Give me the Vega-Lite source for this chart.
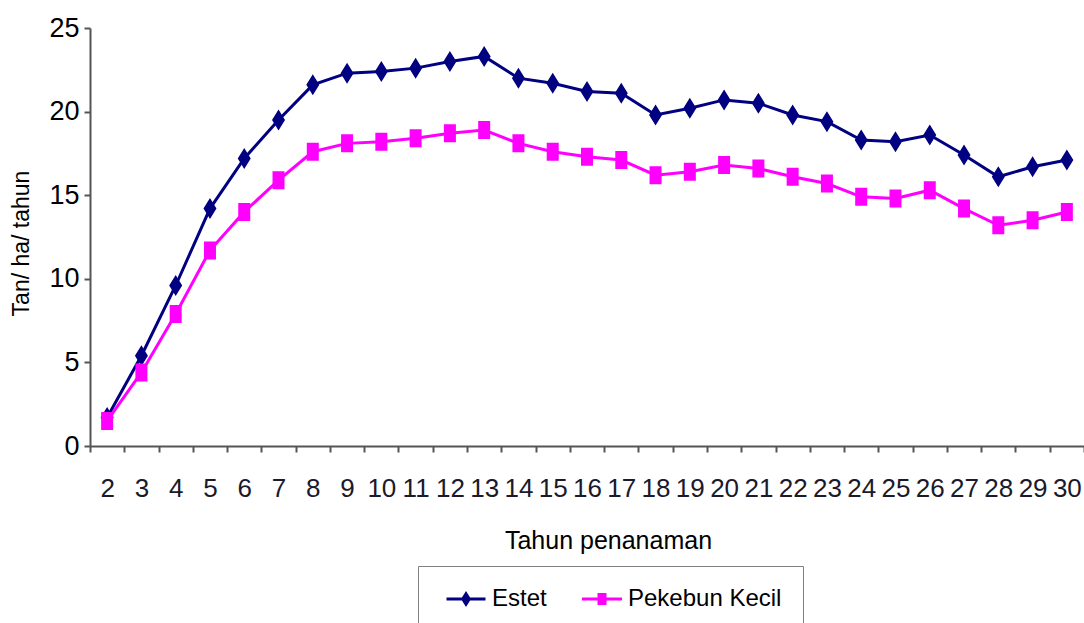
{
  "$schema": "https://vega.github.io/schema/vega-lite/v6.json",
  "autosize": "none",
  "width": 994,
  "height": 418,
  "padding": {"left": 90, "top": 28, "right": 0, "bottom": 177},
  "background": "white",
  "config": {"view": {"stroke": null}, "font": "Liberation Sans"},
  "data": {"values": [
    {"tahun": 2, "seri": "Estet", "nilai": 1.7},
    {"tahun": 3, "seri": "Estet", "nilai": 5.4},
    {"tahun": 4, "seri": "Estet", "nilai": 9.6},
    {"tahun": 5, "seri": "Estet", "nilai": 14.2},
    {"tahun": 6, "seri": "Estet", "nilai": 17.2},
    {"tahun": 7, "seri": "Estet", "nilai": 19.5},
    {"tahun": 8, "seri": "Estet", "nilai": 21.6},
    {"tahun": 9, "seri": "Estet", "nilai": 22.3},
    {"tahun": 10, "seri": "Estet", "nilai": 22.4},
    {"tahun": 11, "seri": "Estet", "nilai": 22.6},
    {"tahun": 12, "seri": "Estet", "nilai": 23.0},
    {"tahun": 13, "seri": "Estet", "nilai": 23.3},
    {"tahun": 14, "seri": "Estet", "nilai": 22.0},
    {"tahun": 15, "seri": "Estet", "nilai": 21.7},
    {"tahun": 16, "seri": "Estet", "nilai": 21.2},
    {"tahun": 17, "seri": "Estet", "nilai": 21.1},
    {"tahun": 18, "seri": "Estet", "nilai": 19.8},
    {"tahun": 19, "seri": "Estet", "nilai": 20.2},
    {"tahun": 20, "seri": "Estet", "nilai": 20.7},
    {"tahun": 21, "seri": "Estet", "nilai": 20.5},
    {"tahun": 22, "seri": "Estet", "nilai": 19.8},
    {"tahun": 23, "seri": "Estet", "nilai": 19.4},
    {"tahun": 24, "seri": "Estet", "nilai": 18.3},
    {"tahun": 25, "seri": "Estet", "nilai": 18.2},
    {"tahun": 26, "seri": "Estet", "nilai": 18.6},
    {"tahun": 27, "seri": "Estet", "nilai": 17.4},
    {"tahun": 28, "seri": "Estet", "nilai": 16.1},
    {"tahun": 29, "seri": "Estet", "nilai": 16.7},
    {"tahun": 30, "seri": "Estet", "nilai": 17.1},
    {"tahun": 2, "seri": "Pekebun Kecil", "nilai": 1.5},
    {"tahun": 3, "seri": "Pekebun Kecil", "nilai": 4.4},
    {"tahun": 4, "seri": "Pekebun Kecil", "nilai": 7.9},
    {"tahun": 5, "seri": "Pekebun Kecil", "nilai": 11.7},
    {"tahun": 6, "seri": "Pekebun Kecil", "nilai": 14.0},
    {"tahun": 7, "seri": "Pekebun Kecil", "nilai": 15.9},
    {"tahun": 8, "seri": "Pekebun Kecil", "nilai": 17.6},
    {"tahun": 9, "seri": "Pekebun Kecil", "nilai": 18.1},
    {"tahun": 10, "seri": "Pekebun Kecil", "nilai": 18.2},
    {"tahun": 11, "seri": "Pekebun Kecil", "nilai": 18.4},
    {"tahun": 12, "seri": "Pekebun Kecil", "nilai": 18.7},
    {"tahun": 13, "seri": "Pekebun Kecil", "nilai": 18.9},
    {"tahun": 14, "seri": "Pekebun Kecil", "nilai": 18.1},
    {"tahun": 15, "seri": "Pekebun Kecil", "nilai": 17.6},
    {"tahun": 16, "seri": "Pekebun Kecil", "nilai": 17.3},
    {"tahun": 17, "seri": "Pekebun Kecil", "nilai": 17.1},
    {"tahun": 18, "seri": "Pekebun Kecil", "nilai": 16.2},
    {"tahun": 19, "seri": "Pekebun Kecil", "nilai": 16.4},
    {"tahun": 20, "seri": "Pekebun Kecil", "nilai": 16.8},
    {"tahun": 21, "seri": "Pekebun Kecil", "nilai": 16.6},
    {"tahun": 22, "seri": "Pekebun Kecil", "nilai": 16.1},
    {"tahun": 23, "seri": "Pekebun Kecil", "nilai": 15.7},
    {"tahun": 24, "seri": "Pekebun Kecil", "nilai": 14.9},
    {"tahun": 25, "seri": "Pekebun Kecil", "nilai": 14.8},
    {"tahun": 26, "seri": "Pekebun Kecil", "nilai": 15.3},
    {"tahun": 27, "seri": "Pekebun Kecil", "nilai": 14.2},
    {"tahun": 28, "seri": "Pekebun Kecil", "nilai": 13.2},
    {"tahun": 29, "seri": "Pekebun Kecil", "nilai": 13.5},
    {"tahun": 30, "seri": "Pekebun Kecil", "nilai": 14.0}
  ]},
  "encoding": {
    "x": {
      "field": "tahun", "type": "ordinal",
      "scale": {"type": "band", "paddingInner": 0, "paddingOuter": 0},
      "axis": {
        "title": "Tahun penanaman",
        "labelAngle": 0,
        "tickBand": "extent",
        "domainColor": "#555555", "domainWidth": 2,
        "tickColor": "#555555", "tickWidth": 2, "tickSize": 6,
        "labelFont": "Liberation Sans",
        "labelFontSize": 26, "labelColor": "#1a1a2a",
        "labelPadding": 23,
        "titleFont": "Liberation Sans", "titleFontSize": 25, "titleFontWeight": "normal", "titleColor": "#000000",
        "titleX": 518, "titleY": 102, "titleBaseline": "alphabetic"
      }
    },
    "y": {
      "field": "nilai", "type": "quantitative",
      "scale": {"domain": [0, 25], "nice": false},
      "axis": {
        "title": "Tan/ ha/ tahun",
        "values": [0, 5, 10, 15, 20, 25],
        "grid": false,
        "domainColor": "#555555", "domainWidth": 2,
        "tickColor": "#555555", "tickWidth": 2, "tickSize": 6,
        "labelFontSize": 27, "labelColor": "#000000", "labelPadding": 5,
        "titleFont": "Liberation Sans", "titleFontSize": 23, "titleFontWeight": "normal", "titleColor": "#000000",
        "titleX": -62, "titleY": 215, "titleBaseline": "alphabetic", "titleAngle": 270
      }
    },
    "color": {
      "field": "seri", "type": "nominal",
      "scale": {"domain": ["Estet", "Pekebun Kecil"], "range": ["#000080", "#FF00FF"]},
      "legend": {
        "title": null,
        "orient": "none",
        "direction": "horizontal",
        "legendX": 328,
        "legendY": 538,
        "padding": 21,
        "strokeColor": "#808080",
        "fillColor": "#ffffff",
        "labelFont": "Liberation Sans",
        "labelFontSize": 24,
        "labelColor": "#000000",
        "symbolStrokeWidth": 3,
        "symbolOffset": 15,
        "labelOffset": 14,
        "columnPadding": 28,
        "labelLimit": 300
      }
    }
  },
  "layer": [
    {"mark": {"type": "line", "strokeWidth": 3}},
    {
      "mark": {"type": "point", "filled": true, "opacity": 1, "size": 400},
      "encoding": {
        "shape": {
          "field": "seri", "type": "nominal",
          "scale": {"domain": ["Estet", "Pekebun Kecil"], "range": ["M-3.9,0L3.9,0M0,-1.05L0.65,0L0,1.05L-0.65,0Z", "M-4,0L4,0M-0.6,-0.9L0.6,-0.9L0.6,0.9L-0.6,0.9Z"]},
          "legend": null
        }
      }
    }
  ]
}
